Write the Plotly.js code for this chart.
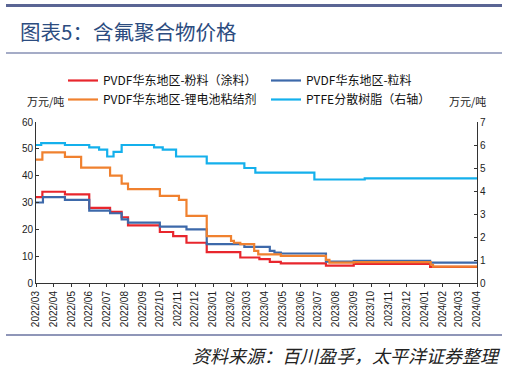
<!DOCTYPE html>
<html>
<head>
<meta charset="utf-8">
<script src="https://cdn.plot.ly/plotly-3.0.1.min.js"></script>
<style>html,body{margin:0;padding:0;background:#fff;}#chart{width:507px;height:371px;}</style>
</head>
<body>
<div id="chart"></div>
<script>
// ---- data ----
const seriesNames = ['PVDF华东地区-粉料（涂料）', 'PVDF华东地区-粒料', 'PVDF华东地区-锂电池粘结剂', 'PTFE分散树脂（右轴）'];

const powderDates = ['2022-03-01','2022-03-12','2022-04-20','2022-06-01','2022-07-07','2022-07-27','2022-08-07','2022-10-01','2022-10-24','2022-11-16','2022-12-21','2023-02-17','2023-03-22','2023-04-09','2023-04-28','2023-07-15','2023-09-01','2024-01-11','2024-04-01'];
const powderValues = [32, 34, 33, 28, 26.5, 24.5, 21.5, 19, 17.5, 15, 11.5, 9.5, 8.9, 7.9, 7.3, 6.5, 7.1, 6.0, 6.0];

const pelletDates = ['2022-03-01','2022-03-13','2022-04-20','2022-06-01','2022-07-07','2022-07-27','2022-08-07','2022-10-01','2022-11-16','2022-12-21','2023-02-24','2023-04-09','2023-04-17','2023-04-28','2023-07-15','2023-09-01','2024-01-11','2024-04-01'];
const pelletValues = [30, 32, 31, 27, 26, 23.7, 22.5, 21, 20, 14.5, 13.5, 12, 11.3, 11.0, 8.0, 8.3, 7.6, 7.6];

const binderDates = ['2022-03-01','2022-03-12','2022-04-20','2022-05-18','2022-07-07','2022-07-27','2022-08-07','2022-10-01','2022-11-03','2022-11-16','2022-12-21','2023-02-01','2023-02-06','2023-02-17','2023-03-13','2023-03-20','2023-04-28','2023-07-15','2023-07-21','2023-09-01','2024-01-12','2024-01-16','2024-04-01'];
const binderValues = [46, 48.7, 47, 43, 40, 37, 35, 32.5, 31, 25, 17.5, 15.7, 15, 14.5, 12, 10.7, 10.1, 8.6, 7.6, 7.8, 6.8, 6.1, 6.1];

const ptfeDates = ['2022-03-01','2022-03-10','2022-04-20','2022-06-01','2022-06-18','2022-07-02','2022-07-13','2022-07-27','2022-09-21','2022-10-06','2022-10-29','2022-12-21','2023-02-24','2023-03-15','2023-06-25','2023-09-20','2024-04-01'];
const ptfeValues = [6.0, 6.08, 6.0, 5.9, 5.8, 5.5, 5.7, 6.0, 5.9, 5.8, 5.5, 5.2, 5.0, 4.8, 4.5, 4.55, 4.55];

const colors = ['#E8262D', '#3D69AA', '#F0812F', '#14B0EC'];

// ---- geometry helpers (layout only) ----
const W = 507, Hh = 371, ML = 36, MR = 30, MT = 122, MB = 88;
const PW = W - ML - MR, PH = Hh - MT - MB;
const px = x => (x - ML) / PW;
const py = y => (Hh - MB - y) / PH;

const cjk = '"Noto Sans CJK SC", "Noto Sans", sans-serif';
const latin = '"Liberation Sans", Arial, sans-serif';

function mk(dates, vals, i, axis) {
  return {
    x: dates, y: vals, name: seriesNames[i], type: 'scatter', mode: 'lines',
    line: {shape: 'hv', color: colors[i], width: 2.2},
    yaxis: axis, hoverinfo: 'skip'
  };
}

const traces = [
  mk(powderDates, powderValues, 0, 'y'),
  mk(pelletDates, pelletValues, 1, 'y'),
  mk(binderDates, binderValues, 2, 'y'),
  mk(ptfeDates, ptfeValues, 3, 'y2')
];

const layout = {
  width: W, height: Hh,
  margin: {l: ML, r: MR, t: MT, b: MB, pad: 0},
  paper_bgcolor: '#fff', plot_bgcolor: '#fff',
  font: {family: latin, size: 10, color: '#222'},
  title: {
    text: '图表5：含氟聚合物价格',
    x: 20 / W, xanchor: 'left', xref: 'container',
    y: 1 - 33 / Hh, yanchor: 'middle', yref: 'container',
    font: {family: cjk, size: 20.5, color: '#2C4C80'}
  },
  showlegend: true,
  legend: {
    orientation: 'h', x: px(63), xanchor: 'left', y: py(66), yanchor: 'top',
    font: {family: cjk, size: 12, color: '#111'},
    entrywidth: 158, itemwidth: 30, bgcolor: 'rgba(0,0,0,0)', traceorder: 'normal'
  },
  xaxis: {
    type: 'date', range: ['2022-03-01', '2024-04-01'],
    tick0: '2022-03-01', dtick: 'M1', tickformat: '%Y/%m', tickangle: -90,
    ticks: 'outside', ticklen: 3, tickcolor: '#333',
    showline: true, linecolor: '#333', linewidth: 1, showgrid: false, zeroline: false,
    tickfont: {family: latin, size: 10, color: '#222'}
  },
  yaxis: {
    range: [0, 60], dtick: 10, ticks: 'inside', ticklen: 3, tickcolor: '#333',
    showline: true, linecolor: '#333', linewidth: 1, showgrid: false, zeroline: false,
    tickfont: {family: latin, size: 10, color: '#222'}
  },
  yaxis2: {
    range: [0, 7], dtick: 1, overlaying: 'y', side: 'right',
    ticks: 'inside', ticklen: 3, tickcolor: '#333',
    showline: true, linecolor: '#333', linewidth: 1, showgrid: false, zeroline: false,
    tickfont: {family: latin, size: 10, color: '#222'}
  },
  shapes: [
    {type: 'line', xref: 'paper', yref: 'paper', x0: px(6), x1: px(502), y0: py(5.5), y1: py(5.5), line: {color: '#5A6594', width: 3}},
    {type: 'line', xref: 'paper', yref: 'paper', x0: px(6), x1: px(502), y0: py(53), y1: py(53), line: {color: '#8790B5', width: 1.5}},
    {type: 'line', xref: 'paper', yref: 'paper', x0: px(6), x1: px(502), y0: py(335), y1: py(335), line: {color: '#6A73A0', width: 1.5}}
  ],
  annotations: [
    {text: '万元/吨', xref: 'paper', yref: 'paper', x: px(45), y: py(101), xanchor: 'center', yanchor: 'middle', showarrow: false, font: {family: cjk, size: 11, color: '#222'}},
    {text: '万元/吨', xref: 'paper', yref: 'paper', x: px(467), y: py(101), xanchor: 'center', yanchor: 'middle', showarrow: false, font: {family: cjk, size: 11, color: '#222'}},
    {text: '<i>资料来源：百川盈孚，太平洋证券整理</i>', xref: 'paper', yref: 'paper', x: px(503), y: py(355), xanchor: 'right', yanchor: 'middle', showarrow: false, font: {family: cjk, size: 18, color: '#222'}}
  ]
};

Plotly.newPlot('chart', traces, layout, {displayModeBar: false, staticPlot: true});
</script>
</body>
</html>
